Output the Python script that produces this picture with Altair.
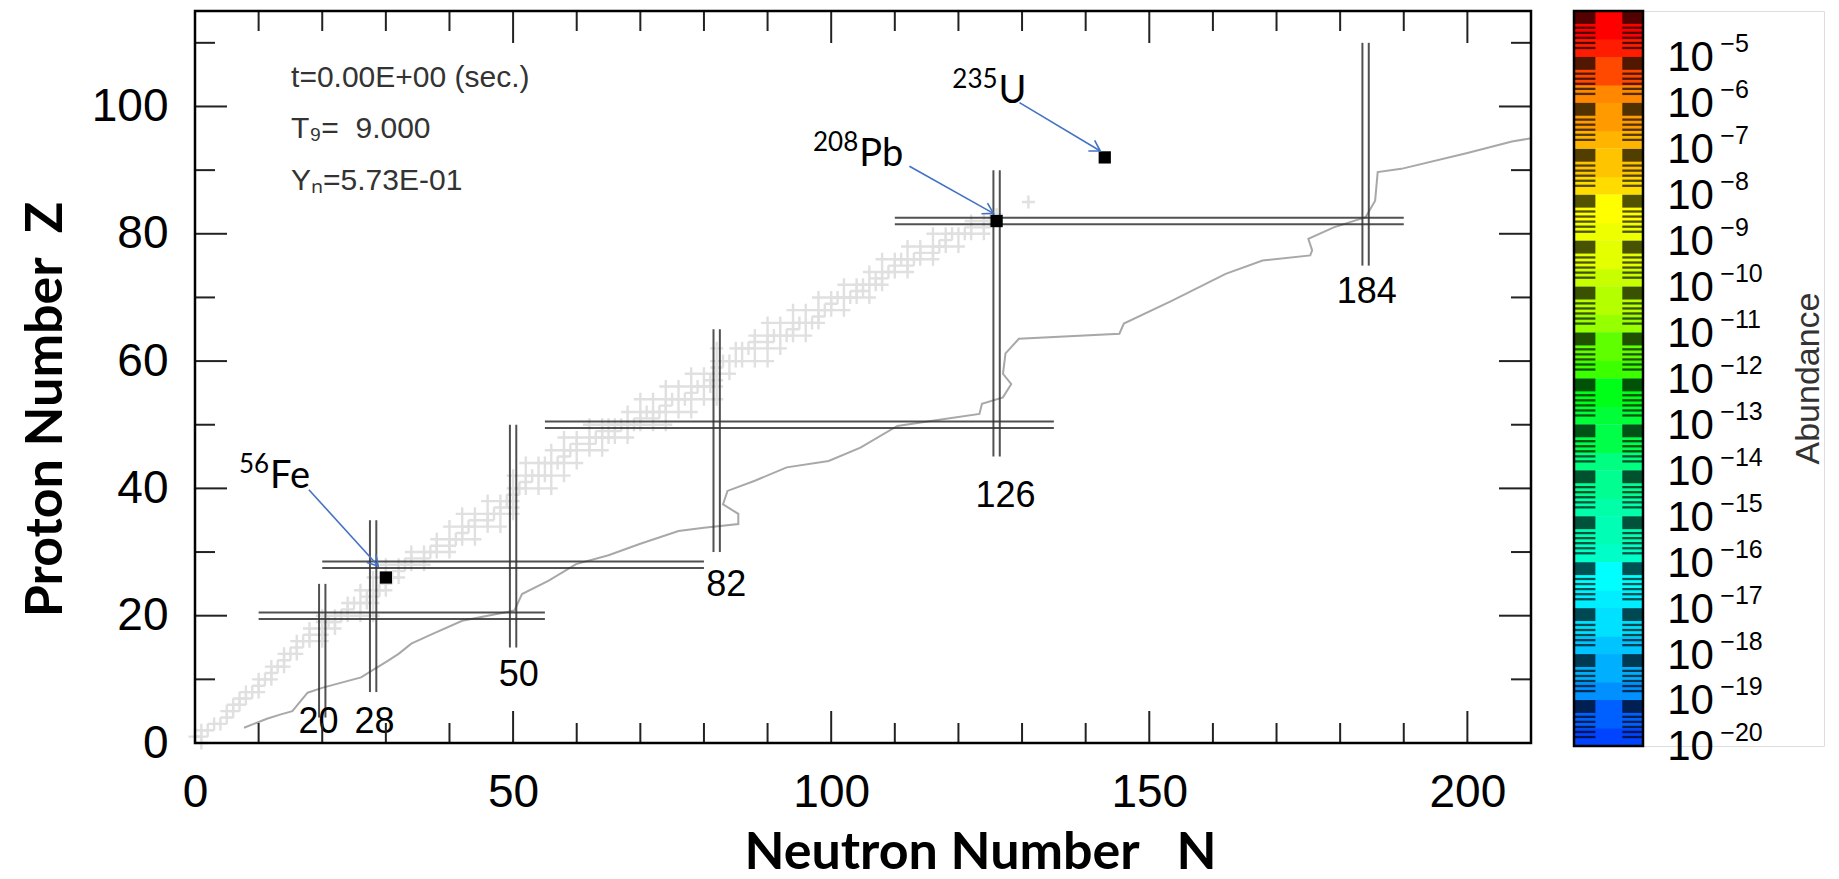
import math
import altair as alt
import pandas as pd

# ---------------- data ----------------
# stable nuclei: for proton number Z (1..83) the list of stable neutron numbers N
stable_Z = list(range(1, 84))
stable_N = [
    [0, 1], [1, 2], [3, 4], [5], [5, 6], [6, 7], [7, 8], [8, 9, 10], [10], [10, 11, 12],
    [12], [12, 13, 14], [14], [14, 15, 16], [16], [16, 17, 18, 20], [18, 20], [18, 20, 22], [20, 21, 22], [20, 22, 23, 24, 26, 28],
    [24], [24, 25, 26, 27, 28], [27, 28], [26, 28, 29, 30], [30], [28, 30, 31, 32], [32], [30, 32, 33, 34, 36], [34, 36], [34, 36, 37, 38, 40],
    [38, 40], [38, 40, 41, 42, 44], [42], [40, 42, 43, 44, 46, 48], [44, 46], [42, 44, 46, 47, 48, 50], [48, 50], [46, 48, 49, 50], [50], [50, 51, 52, 54, 56],
    [52], [50, 52, 53, 54, 55, 56, 58], [], [52, 54, 55, 56, 57, 58, 60], [58], [56, 58, 59, 60, 62, 64], [60, 62], [58, 60, 62, 63, 64, 65, 66, 68], [64, 66], [62, 64, 65, 66, 67, 68, 69, 70, 72, 74],
    [70, 72], [68, 70, 71, 72, 73, 74, 76, 78], [74], [70, 72, 74, 75, 76, 77, 78, 80, 82], [78], [74, 76, 78, 79, 80, 81, 82], [81, 82], [78, 80, 82, 84], [82], [82, 83, 84, 85, 86, 88, 90],
    [], [82, 85, 86, 87, 88, 90, 92], [88, 90], [88, 90, 91, 92, 93, 94, 96], [94], [90, 92, 94, 95, 96, 97, 98], [98], [94, 96, 98, 99, 100, 102], [100], [98, 100, 101, 102, 103, 104, 106],
    [104, 105], [102, 104, 105, 106, 107, 108], [107, 108], [106, 108, 109, 110, 112], [110, 112], [108, 110, 111, 112, 113, 114, 116], [114, 116], [112, 114, 116, 117, 118, 120], [118], [116, 118, 119, 120, 121, 122, 124],
    [122, 124], [122, 124, 125, 126], [126],
]
extra_N = [1, 131]
extra_Z = [0, 85]

# grey line
drip_N = [7.7, 11.3, 13.5, 15.3, 17.7, 20.1, 26.1, 28.0, 30.3, 32.0, 34.0, 37.0, 42.0, 46.0, 50.2, 51.4,
          55.6, 59.9, 65.0, 70.0, 76.0, 80.0, 85.4, 85.4, 83.0, 83.7, 88.0, 93.0, 99.6, 104.6, 110.4,
          117.0, 123.3, 123.7, 127.0, 128.3, 127.0, 127.4, 129.5, 145.3, 146.0, 153.6, 162.0, 167.8,
          175.3, 175.6, 175.0, 179.0, 184.0, 185.5, 185.9, 189.6, 200.0, 207.0, 210.0]
drip_Z = [2.4, 3.8, 4.5, 5.0, 7.9, 8.7, 10.3, 11.5, 12.9, 14.0, 15.6, 17.0, 19.2, 20.0, 20.8, 23.4,
          25.5, 28.1, 29.5, 31.3, 33.3, 33.8, 34.4, 36.0, 37.5, 39.6, 41.2, 43.3, 44.3, 46.4, 49.8,
          50.8, 51.7, 53.3, 54.3, 56.4, 58.0, 61.2, 63.5, 64.3, 65.9, 69.5, 73.7, 75.8,
          76.6, 77.4, 79.2, 81.0, 82.6, 85.2, 89.7, 90.2, 92.7, 94.5, 95.0]

# magic numbers
hmagic_Z = [20, 28, 50, 82]
hmagic_N0 = [10, 20, 55, 110]
hmagic_N1 = [55, 80, 135, 190]
vmagic_N = [20, 28, 50, 82, 126, 184]
vmagic_Z0 = [4, 8, 15, 30, 45, 75]
vmagic_Z1 = [25, 35, 50, 65, 90, 110]
magic_labels = ["20", "28", "50", "82", "126", "184"]
magic_label_N = [19.4, 28.2, 50.9, 83.5, 127.4, 184.2]
magic_label_Z = [1.6, 1.6, 9.0, 23.1, 37.0, 69.2]

# marked isotopes
iso_mass = ["56", "208", "235"]
iso_sym = ["Fe", "Pb", "U"]
iso_N = [30, 126, 143]
iso_Z = [26, 82, 92]
iso_label_N = [11.8, 104.4, 126.3]
iso_label_Z = [40.1, 90.7, 100.6]
arrow_N0 = [17.9, 112.3, 129.6]
arrow_Z0 = [39.8, 90.6, 100.6]
arrow_N1 = [28.8, 125.5, 142.3]
arrow_Z1 = [27.8, 83.2, 93.0]

NB = "\u00a0"
info_lines = ["t=0.00E+00 (sec.)", "T\u2089=" + NB + NB + "9.000", "Y\u2099=5.73E-01"]
info_N = [15.1, 15.1, 15.1]
info_Z = [103.0, 95.0, 86.8]

x_title = "Neutron Number" + NB * 3 + "N"
y_title = "Proton Number" + NB * 2 + "Z"

x_major = [0, 50, 100, 150, 200]
x_minor = [10, 20, 30, 40, 60, 70, 80, 90, 110, 120, 130, 140, 160, 170, 180, 190]
y_major = [0, 20, 40, 60, 80, 100]
y_minor = [10, 30, 50, 70, 90, 110]

# colour bar
cbar_exponents = ["\u22125", "\u22126", "\u22127", "\u22128", "\u22129", "\u221210", "\u221211", "\u221212",
                  "\u221213", "\u221214", "\u221215", "\u221216", "\u221217", "\u221218", "\u221219", "\u221220"]
cbar_upper = ["#ff0000", "#ff4800", "#ff9a00", "#ffc400", "#ffff00", "#e4ff00", "#b4ff00", "#60ff00",
              "#00ff18", "#00ff48", "#00ff90", "#00ffb4", "#00ffff", "#00e0ff", "#00b0ff", "#0060ff"]
cbar_lower = ["#ff1c00", "#ff8800", "#ffb400", "#ffdc00", "#eeff00", "#c8ff00", "#96ff00", "#3cff00",
              "#00ff38", "#00ff80", "#00ffa8", "#00ffc8", "#00eeff", "#00c4ff", "#0090ff", "#0044ff"]
stripe_start = [0.0, 0.34, 0.45, 0.56, 0.67, 0.78]
stripe_len = [0.28, 0.05, 0.05, 0.05, 0.05, 0.05]

# ---------------- layout ----------------
W, H = 1336, 732
XMAX, YMAX = 210, 115
MAJ, MIN = 32, 20
CB_W, CB_H, BAR_PX = 250, 735, 69
CB_XMAX = CB_W / BAR_PX

xs = alt.Scale(domain=[0, XMAX], nice=False, zero=False)
ys = alt.Scale(domain=[0, YMAX], nice=False, zero=False)

x_axis = alt.Axis(values=x_major, labelFont="Liberation Sans", labelFontSize=46, labelColor="black",
                  labelPadding=27, labelFlush=False, labelOverlap=False, ticks=False, tickSize=0,
                  domain=False, grid=False, title=x_title, titleFont="Lato",
                  titleFontSize=52, titleFontWeight="bold", titleColor="black", titleX=785, titleY=125,
                  titleAlign="center", titleBaseline="alphabetic")
y_axis = alt.Axis(values=y_major, labelFont="Liberation Sans", labelFontSize=46, labelColor="black",
                  labelPadding=27, labelFlush=False, labelOverlap=False, ticks=False, tickSize=0,
                  domain=False, grid=False, title=y_title, titleFont="Lato",
                  titleFontSize=52, titleFontWeight="bold", titleColor="black", titleX=-134, titleY=398,
                  titleAngle=270, titleAlign="center", titleBaseline="alphabetic")


def X(f):
    return alt.X(f, type="quantitative", scale=xs, axis=x_axis)


def Y(f):
    return alt.Y(f, type="quantitative", scale=ys, axis=y_axis)


# plus markers
pts = []
for z, ns in zip(stable_Z, stable_N):
    for n in ns:
        pts.append({"N": n, "Z": z})
for n, z in zip(extra_N, extra_Z):
    pts.append({"N": n, "Z": z})
stable_df = pd.DataFrame(pts)

plus_layer = alt.Chart(stable_df).mark_point(
    shape="M -1 0 L 1 0 M 0 -1 L 0 1", filled=False, stroke="#e0e0e0", strokeWidth=2.4, size=170, opacity=1
).encode(x=X("N"), y=Y("Z"))

drip_df = pd.DataFrame({"N": drip_N, "Z": drip_Z, "i": range(len(drip_N))})
drip_layer = alt.Chart(drip_df).mark_line(color="#a8a8a8", strokeWidth=2).encode(
    x=X("N"), y=Y("Z"), order="i:Q")

hrows = []
for z, a, b in zip(hmagic_Z, hmagic_N0, hmagic_N1):
    for off in (-0.5, 0.5):
        hrows.append({"Z": z + off, "N0": a, "N1": b})
h_layer = alt.Chart(pd.DataFrame(hrows)).mark_rule(color="#333333", strokeWidth=2, opacity=0.85).encode(
    x=X("N0"), x2="N1:Q", y=Y("Z"))

vrows = []
for n, a, b in zip(vmagic_N, vmagic_Z0, vmagic_Z1):
    for off in (-0.5, 0.5):
        vrows.append({"N": n + off, "Z0": a, "Z1": b})
v_layer = alt.Chart(pd.DataFrame(vrows)).mark_rule(color="#333333", strokeWidth=2, opacity=0.85).encode(
    x=X("N"), y=Y("Z0"), y2="Z1:Q")

mlab_df = pd.DataFrame({"N": magic_label_N, "Z": magic_label_Z, "t": magic_labels})
mlab_layer = alt.Chart(mlab_df).mark_text(font="Liberation Sans", fontSize=36, color="black",
                                          align="center", baseline="alphabetic").encode(
    x=X("N"), y=Y("Z"), text="t:N")

iso_df = pd.DataFrame({"N": iso_N, "Z": iso_Z})
sq_layer = alt.Chart(iso_df).mark_square(color="black", size=150, opacity=1).encode(x=X("N"), y=Y("Z"))

px_N, px_Z = W / XMAX, H / YMAX
angles = [math.degrees(math.atan2(-(z1 - z0) * px_Z, (n1 - n0) * px_N)) % 360
          for n0, z0, n1, z1 in zip(arrow_N0, arrow_Z0, arrow_N1, arrow_Z1)]
arr_df = pd.DataFrame({"N0": arrow_N0, "Z0": arrow_Z0, "N1": arrow_N1, "Z1": arrow_Z1, "ang": angles})
arr_layer = alt.Chart(arr_df).mark_rule(color="#4472c4", strokeWidth=1.6).encode(
    x=X("N0"), y=Y("Z0"), x2="N1:Q", y2="Z1:Q")
head_layer = alt.Chart(arr_df).mark_point(
    shape="M -1 -0.6 L 0 0 L -1 0.6", filled=False, stroke="#4472c4", strokeWidth=1.6, size=420, opacity=1
).encode(x=X("N1"), y=Y("Z1"), angle=alt.Angle("ang:Q", scale=None))

lab_df = pd.DataFrame({"N": iso_label_N, "Z": iso_label_Z, "sym": iso_sym, "mass": iso_mass,
                       "Ns": [v - 0.15 for v in iso_label_N], "Zs": [v + 2.35 for v in iso_label_Z]})
sym_layer = alt.Chart(lab_df).mark_text(font="Lato", fontSize=38, color="black", align="left",
                                        baseline="alphabetic").encode(x=X("N"), y=Y("Z"), text="sym:N")
mass_layer = alt.Chart(lab_df).mark_text(font="Lato", fontSize=26, color="black", align="right",
                                         baseline="alphabetic").encode(x=X("Ns"), y=Y("Zs"), text="mass:N")

info_df = pd.DataFrame({"N": info_N, "Z": info_Z, "t": info_lines})
info_layer = alt.Chart(info_df).mark_text(font="Liberation Sans", fontSize=30, color="#333333",
                                          align="left", baseline="alphabetic").encode(
    x=X("N"), y=Y("Z"), text="t:N")


def tick_layers():
    out = []
    tc = "#222222"
    for vals, L in ((x_major, MAJ), (x_minor, MIN)):
        d = pd.DataFrame({"N": vals})
        out.append(alt.Chart(d).mark_rule(color=tc, strokeWidth=2).encode(
            x=X("N"), y=alt.value(H), y2=alt.value(H - L)))
        out.append(alt.Chart(d).mark_rule(color=tc, strokeWidth=2).encode(
            x=X("N"), y=alt.value(0), y2=alt.value(L)))
    for vals, L in ((y_major, MAJ), (y_minor, MIN)):
        d = pd.DataFrame({"Z": vals})
        out.append(alt.Chart(d).mark_rule(color=tc, strokeWidth=2).encode(
            y=Y("Z"), x=alt.value(0), x2=alt.value(L)))
        out.append(alt.Chart(d).mark_rule(color=tc, strokeWidth=2).encode(
            y=Y("Z"), x=alt.value(W), x2=alt.value(W - L)))
    return out


frame = alt.Chart(pd.DataFrame({"a": [0]})).mark_rect(
    filled=False, fillOpacity=0, stroke="black", strokeWidth=2.5).encode(
    x=alt.value(0), x2=alt.value(W), y=alt.value(0), y2=alt.value(H))

main = alt.layer(plus_layer, drip_layer, h_layer, v_layer, mlab_layer, sq_layer, arr_layer, head_layer,
                 sym_layer, mass_layer, info_layer, *tick_layers(), frame).properties(width=W, height=H)

# ---------------- colour bar ----------------
cxs = alt.Scale(domain=[0, CB_XMAX], nice=False, zero=False)
cys = alt.Scale(domain=[0, 16], nice=False, zero=False, reverse=True)


def CX(f):
    return alt.X(f, type="quantitative", scale=cxs, axis=None)


def CY(f):
    return alt.Y(f, type="quantitative", scale=cys, axis=None)


seg_df = pd.DataFrame({"i": list(range(16)), "lo": cbar_lower, "up": cbar_upper, "exp": cbar_exponents})
seg_df["y0"] = seg_df["i"]
seg_df["y1"] = seg_df["i"] + 1
seg_df["ym"] = seg_df["i"] + 0.62
seg_df["x0"] = 0
seg_df["x1"] = 1
seg_df["ly"] = seg_df["i"] + 1.03
seg_df["lx"] = 1.35
seg_df["ex"] = 2.12

lower_layer = alt.Chart(seg_df).mark_rect(opacity=1).encode(
    x=CX("x0"), x2="x1:Q", y=CY("y0"), y2="y1:Q", color=alt.Color("lo:N", scale=None))
upper_layer = alt.Chart(seg_df).mark_rect(opacity=1).encode(
    x=CX("x0"), x2="x1:Q", y=CY("y0"), y2="ym:Q", color=alt.Color("up:N", scale=None))

srows = []
for i in range(16):
    for s0, sl in zip(stripe_start, stripe_len):
        for a, b in ((0.0, 0.31), (0.70, 1.0)):
            srows.append({"x0": a, "x1": b, "y0": i + s0, "y1": i + s0 + sl})
stripe_layer = alt.Chart(pd.DataFrame(srows)).mark_rect(color="black", opacity=0.68).encode(
    x=CX("x0"), x2="x1:Q", y=CY("y0"), y2="y1:Q")

border = alt.Chart(pd.DataFrame({"x0": [0], "x1": [1], "y0": [0], "y1": [16]})).mark_rect(
    filled=False, fillOpacity=0, stroke="black", strokeWidth=2.5).encode(
    x=CX("x0"), x2="x1:Q", y=CY("y0"), y2="y1:Q")

ten_layer = alt.Chart(seg_df).mark_text(font="Liberation Sans", fontSize=42, color="black", align="left",
                                        baseline="middle", text="10").encode(x=CX("lx"), y=CY("ly"))
exp_layer = alt.Chart(seg_df).mark_text(font="Liberation Sans", fontSize=25, color="black", align="left",
                                        baseline="middle", dy=-14).encode(x=CX("ex"), y=CY("ly"), text="exp:N")
abund_layer = alt.Chart(pd.DataFrame({"x": [3.41], "y": [8.0], "t": ["Abundance"]})).mark_text(
    font="Liberation Sans", fontSize=34, color="#333333", angle=270, align="center", baseline="middle").encode(
    x=CX("x"), y=CY("y"), text="t:N")

cbar = alt.layer(lower_layer, upper_layer, stripe_layer, border, ten_layer, exp_layer, abund_layer).properties(
    width=CB_W, height=CB_H)

chart = alt.hconcat(main, cbar, spacing=36).properties(
    padding={"left": 10, "top": 1, "right": 0, "bottom": 0}
).configure_view(strokeWidth=0, stroke="transparent").configure(background="white")

chart.save("out.html", embed_options={"renderer": "svg", "actions": False})
